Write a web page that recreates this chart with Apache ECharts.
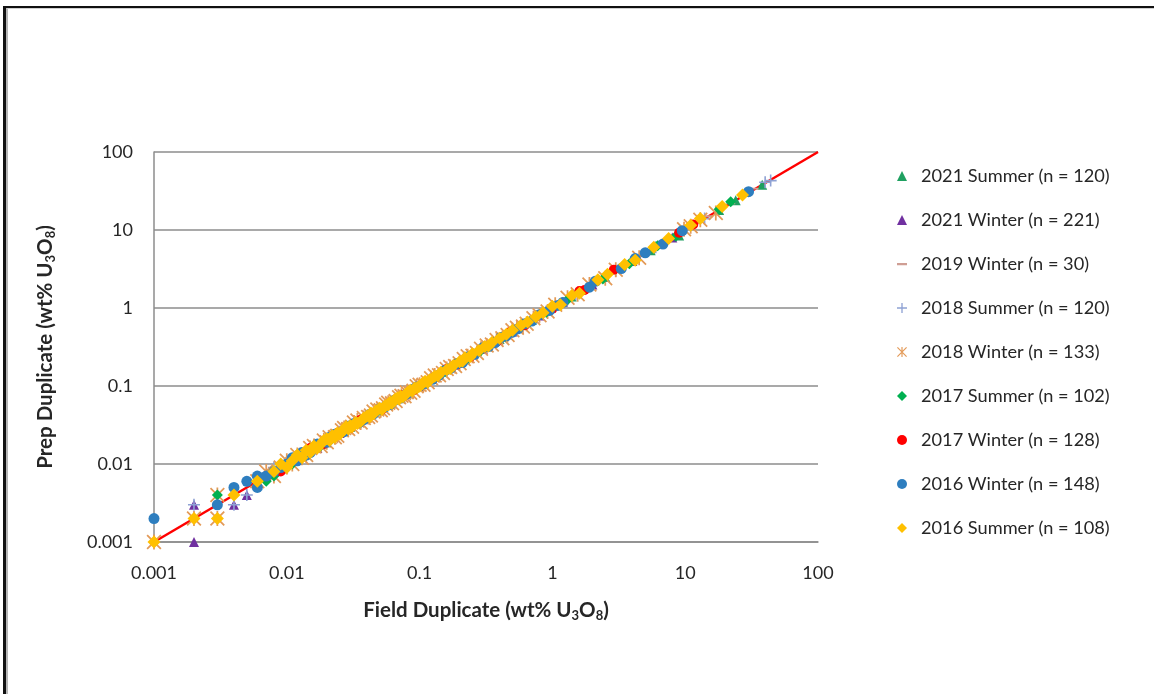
<!DOCTYPE html>
<html>
<head>
<meta charset="utf-8">
<script src="https://cdn.jsdelivr.net/npm/echarts@6/dist/echarts.min.js"></script>
<style>
  html, body { margin: 0; padding: 0; background: #fff; }
  #main { position: absolute; left: 0; top: 0; width: 1154px; height: 694px; }
  #frame { position: absolute; left: 3px; top: 6px; width: 1200px; height: 720px;
    border-left: 3px solid #111; border-top: 2px solid #111; pointer-events: none; }
  #frame div { width: 100%; height: 100%; border-left: 2px solid #b5b5b5; border-top: 1px solid #d0d0d0; }
</style>
</head>
<body>
<div id="main"></div>
<div id="frame"><div></div></div>
<script>
// log tick labels, 0.001 .. 100
const tickLabels = ['0.001', '0.01', '0.1', '1', '10', '100'];
const oneToOne = [[0.001, 0.001], [100, 100]];

const seriesNames = [
  '2021 Summer (n = 120)', '2021 Winter (n = 221)', '2019 Winter (n = 30)',
  '2018 Summer (n = 120)', '2018 Winter (n = 133)', '2017 Summer (n = 102)',
  '2017 Winter (n = 128)', '2016 Winter (n = 148)', '2016 Summer (n = 108)'
];

// [field duplicate, prep duplicate]
const summer2021 = [[0.008,0.008],[0.012,0.012],[0.018,0.018],[0.03,0.03],[0.05,0.05],[0.08,0.08],
  [0.13,0.13],[0.22,0.22],[0.4,0.4],[0.7,0.7],[1.4,1.4],[2.5,2.5],[5.5,5.5],[9,8.5],[18,18],[24,24],[38,38]];
const winter2021 = [[0.002,0.001],[0.002,0.003],[0.004,0.003],[0.005,0.004],[0.007,0.007],[0.01,0.01],
  [0.013,0.013],[0.017,0.016],[0.025,0.025],[0.033,0.034],[0.05,0.05],[0.07,0.07],[0.1,0.1],[0.14,0.14],
  [0.2,0.2],[0.3,0.3],[0.5,0.5],[0.8,0.8],[1.2,1.2],[2,2],[4,4],[8,8]];
const winter2019 = [[0.003,0.003],[0.009,0.009],[0.02,0.02],[0.04,0.04],[0.07,0.07],[0.15,0.15],[0.35,0.35],
  [0.7,0.7],[1.8,1.8],[5,5],[15,15],[22,22],[33,34]];
const summer2018 = [[0.002,0.003],[0.004,0.003],[0.005,0.004],[0.006,0.006],[0.008,0.009],[0.011,0.011],
  [0.015,0.015],[0.02,0.02],[0.025,0.026],[0.035,0.034],[0.046,0.047],[0.06,0.06],[0.08,0.08],[0.12,0.12],
  [0.17,0.17],[0.25,0.25],[0.4,0.4],[0.6,0.6],[0.9,0.9],[1.5,1.5],[3,3],[6,6],[14,14],[40,41],[44,43]];
const winter2018 = [[0.001,0.001],[0.002,0.002],[0.003,0.004],[0.003,0.002],[0.006,0.006],[0.007,0.008],
  [0.008,0.007],[0.009,0.009],[0.01,0.011],[0.011,0.01],[0.012,0.013],[0.013,0.012],[0.014,0.013],
  [0.015,0.016],[0.016,0.017],[0.018,0.017],[0.019,0.02],[0.02,0.019],[0.021,0.022],[0.023,0.022],
  [0.024,0.023],[0.026,0.027],[0.027,0.029],[0.029,0.028],[0.031,0.03],[0.032,0.034],[0.034,0.036],
  [0.036,0.034],[0.038,0.039],[0.041,0.04],[0.043,0.042],[0.045,0.047],[0.048,0.05],[0.051,0.049],
  [0.053,0.052],[0.056,0.058],[0.058,0.061],[0.062,0.06],[0.066,0.064],[0.07,0.072],[0.073,0.075],
  [0.077,0.074],[0.08,0.083],[0.085,0.082],[0.09,0.087],[0.095,0.099],[0.1,0.104],[0.107,0.104],
  [0.115,0.112],[0.122,0.126],[0.13,0.136],[0.14,0.137],[0.15,0.147],[0.16,0.165],[0.17,0.175],
  [0.185,0.18],[0.2,0.196],[0.215,0.222],[0.23,0.24],[0.25,0.245],[0.27,0.265],[0.29,0.3],[0.32,0.33],
  [0.35,0.34],[0.38,0.39],[0.42,0.41],[0.46,0.45],[0.5,0.52],[0.54,0.56],[0.6,0.58],[0.64,0.63],
  [0.72,0.74],[0.8,0.81],[0.92,0.9],[1.05,1.1],[1.3,1.35],[1.55,1.5],[1.9,2.0],[2.5,2.4],[3.0,3.1],
  [4.5,4.4],[9.8,10.2],[11,11.2],[13,13.5],[17,16.5]];
const summer2017 = [[0.003,0.004],[0.007,0.006],[0.008,0.007],[0.011,0.01],[0.014,0.013],[0.018,0.017],
  [0.022,0.021],[0.027,0.028],[0.034,0.033],[0.042,0.043],[0.05,0.049],[0.06,0.059],[0.072,0.071],
  [0.087,0.089],[0.105,0.103],[0.125,0.127],[0.155,0.152],[0.19,0.195],[0.23,0.225],[0.29,0.285],
  [0.36,0.365],[0.44,0.43],[0.56,0.57],[0.68,0.67],[0.9,0.88],[1.3,1.28],[2.4,2.35],[3.8,3.7],[6.2,6.3],
  [8.5,8.3],[18,18.5],[22,23]];
const winter2017 = [[0.007,0.007],[0.009,0.008],[0.012,0.012],[0.015,0.016],[0.019,0.018],[0.024,0.025],
  [0.03,0.029],[0.036,0.037],[0.044,0.045],[0.052,0.05],[0.062,0.063],[0.075,0.076],[0.09,0.088],
  [0.11,0.112],[0.13,0.128],[0.16,0.165],[0.19,0.188],[0.24,0.235],[0.3,0.305],[0.38,0.37],[0.48,0.49],
  [0.62,0.6],[0.78,0.8],[1.0,0.98],[1.6,1.65],[1.75,1.7],[2.9,3.1],[9.0,9.2],[11.5,11.8]];
const winter2016 = [[0.001,0.002],[0.003,0.003],[0.004,0.005],[0.005,0.006],[0.006,0.007],[0.006,0.005],
  [0.007,0.007],[0.008,0.008],[0.009,0.009],[0.01,0.01],[0.011,0.012],[0.012,0.011],[0.013,0.014],
  [0.014,0.013],[0.015,0.014],[0.016,0.016],[0.017,0.018],[0.02,0.019],[0.021,0.022],[0.023,0.024],
  [0.025,0.025],[0.027,0.026],[0.03,0.031],[0.032,0.033],[0.035,0.034],[0.038,0.037],[0.042,0.043],
  [0.045,0.044],[0.05,0.051],[0.055,0.054],[0.06,0.058],[0.065,0.066],[0.072,0.07],[0.08,0.079],
  [0.088,0.09],[0.095,0.097],[0.11,0.108],[0.125,0.122],[0.14,0.138],[0.155,0.158],[0.17,0.168],
  [0.19,0.192],[0.21,0.2],[0.23,0.235],[0.26,0.255],[0.3,0.31],[0.33,0.32],[0.37,0.36],[0.41,0.42],
  [0.45,0.44],[0.5,0.49],[0.55,0.54],[0.62,0.63],[0.7,0.68],[0.8,0.82],[0.95,0.93],[1.1,1.08],
  [1.2,1.18],[1.9,1.85],[2.1,2.2],[3.3,3.2],[4.2,4.3],[5.0,5.1],[6.8,6.6],[9.5,9.8],[30,31]];
const summer2016 = [[0.001,0.001],[0.002,0.002],[0.003,0.002],[0.004,0.004],[0.006,0.006],[0.008,0.008],
  [0.009,0.01],[0.01,0.009],[0.011,0.011],[0.012,0.013],[0.013,0.012],[0.014,0.015],[0.015,0.014],
  [0.016,0.017],[0.017,0.016],[0.018,0.018],[0.019,0.02],[0.02,0.021],[0.021,0.02],[0.022,0.023],
  [0.023,0.022],[0.024,0.025],[0.025,0.024],[0.026,0.026],[0.027,0.028],[0.028,0.03],[0.029,0.028],
  [0.03,0.031],[0.031,0.03],[0.033,0.034],[0.034,0.033],[0.036,0.035],[0.038,0.039],[0.04,0.041],
  [0.042,0.04],[0.043,0.045],[0.045,0.044],[0.047,0.048],[0.05,0.052],[0.052,0.05],[0.055,0.056],
  [0.058,0.057],[0.06,0.062],[0.062,0.06],[0.064,0.065],[0.066,0.068],[0.068,0.07],[0.07,0.068],
  [0.072,0.074],[0.075,0.073],[0.078,0.078],[0.082,0.084],[0.085,0.088],[0.088,0.086],[0.092,0.094],
  [0.096,0.095],[0.1,0.1],[0.105,0.108],[0.11,0.115],[0.115,0.112],[0.12,0.121],[0.13,0.133],
  [0.137,0.135],[0.145,0.15],[0.16,0.162],[0.17,0.168],[0.18,0.185],[0.2,0.205],[0.21,0.208],
  [0.22,0.23],[0.24,0.238],[0.25,0.26],[0.28,0.285],[0.31,0.32],[0.33,0.325],[0.35,0.36],[0.4,0.41],
  [0.45,0.46],[0.5,0.52],[0.58,0.6],[0.65,0.66],[0.75,0.77],[0.85,0.87],[1.0,1.05],[1.15,1.1],
  [1.4,1.45],[1.6,1.55],[2.2,2.3],[2.6,2.7],[3.5,3.6],[4.2,4.1],[5.8,6.0],[7.5,7.8],[11,11.5],[13,14],
  [19,20],[27,28]];

const FONT = 'Lato';
const starPath = 'path://M0,1L1,0L12,11L11,12Z M11,0L12,1L1,12L0,11Z M5.3,0L6.7,0L6.7,12L5.3,12Z';
const plusPath = 'path://M5.2,0L6.8,0L6.8,12L5.2,12Z M0,5.2L12,5.2L12,6.8L0,6.8Z';
// short horizontal dash inside a square box (tiny corner specks keep the box square)
const dashPath = 'path://M0,0L0.05,0L0,0.05Z M0,4L10,4L10,6.2L0,6.2Z M10,10L9.95,10L10,9.95Z';

function scatter(name, data, symbol, size, color) {
  return { name: name, type: 'scatter', data: data, symbol: symbol, symbolSize: size,
    itemStyle: { color: color, opacity: 1 }, emphasis: { disabled: true } };
}

const titleStyle = {
  fontFamily: FONT, fontSize: 20.5, fontWeight: 'bold', color: '#262626', lineHeight: 24,
  rich: { sub: { fontFamily: FONT, fontSize: 13, fontWeight: 'bold', lineHeight: 13,
    verticalAlign: 'bottom', color: '#262626' } }
};

const chart = echarts.init(document.getElementById('main'));
chart.setOption({
  animation: false,
  textStyle: { fontFamily: FONT },
  grid: { left: 154, right: 336, top: 152, bottom: 152 },
  legend: {
    orient: 'vertical', left: 892, top: 160, itemGap: 22,
    itemWidth: 10, itemHeight: 10,
    data: seriesNames,
    textStyle: { fontFamily: FONT, fontSize: 18.2, color: '#262626', lineHeight: 22, padding: [0, 0, 0, 9] }
  },
  xAxis: {
    type: 'log', logBase: 10, min: 0.001, max: 100,
    name: 'Field Duplicate (wt% U{sub|3}O{sub|8})',
    nameLocation: 'middle', nameGap: 56,
    nameTextStyle: titleStyle,
    axisLine: { show: true, lineStyle: { color: '#8c8c8c', width: 1.5 } },
    axisTick: { show: false },
    splitLine: { show: false },
    axisLabel: { fontFamily: FONT, fontSize: 18, color: '#262626', margin: 22,
      formatter: v => tickLabels[Math.round(Math.log10(v)) + 3] }
  },
  yAxis: {
    type: 'log', logBase: 10, min: 0.001, max: 100,
    name: 'Prep Duplicate (wt% U{sub|3}O{sub|8})',
    nameLocation: 'middle', nameGap: 97,
    nameTextStyle: titleStyle,
    axisLine: { show: true, lineStyle: { color: '#8c8c8c', width: 1.5 } },
    axisTick: { show: false },
    splitLine: { show: true, lineStyle: { color: '#8c8c8c', width: 1.5 } },
    axisLabel: { fontFamily: FONT, fontSize: 18, color: '#262626', margin: 21,
      formatter: v => tickLabels[Math.round(Math.log10(v)) + 3] }
  },
  series: [
    { name: '1:1', type: 'line', data: oneToOne, showSymbol: false, symbol: 'none',
      lineStyle: { color: '#ff0000', width: 2.5 }, z: 1, silent: true },
    scatter(seriesNames[0], summer2021, 'triangle', 10, '#1fa060'),
    scatter(seriesNames[1], winter2021, 'triangle', 10, '#7030a0'),
    scatter(seriesNames[2], winter2019, dashPath, 9, '#cf9e94'),
    scatter(seriesNames[3], summer2018, plusPath, 12, '#8fa2d4'),
    scatter(seriesNames[4], winter2018, starPath, 15, '#e39a58'),
    scatter(seriesNames[5], summer2017, 'diamond', 11, '#00b050'),
    scatter(seriesNames[6], winter2017, 'circle', 10, '#ff0000'),
    scatter(seriesNames[7], winter2016, 'circle', 11, '#2e7ebf'),
    scatter(seriesNames[8], summer2016, 'diamond', 13, '#ffc000')
  ]
});
</script>
</body>
</html>
